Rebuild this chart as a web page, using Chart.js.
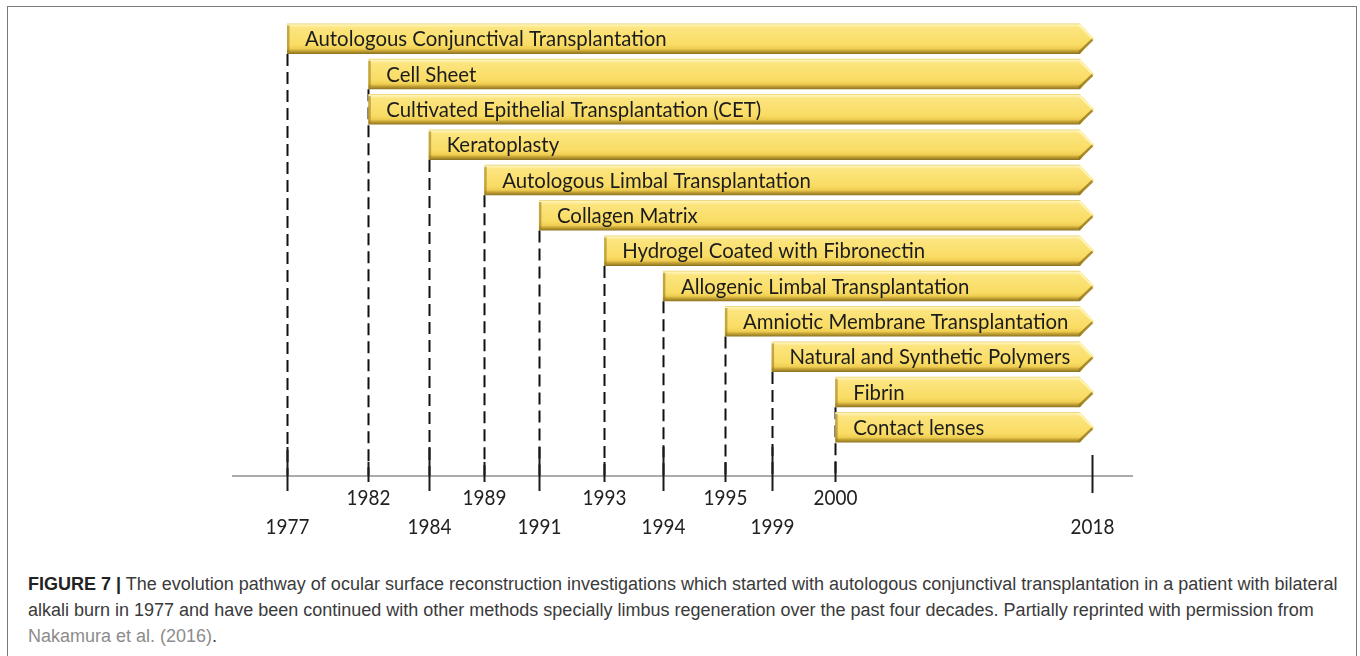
<!DOCTYPE html>
<html>
<head>
<meta charset="utf-8">
<script src="https://cdn.jsdelivr.net/npm/chart.js@4.4.1/dist/chart.umd.min.js"></script>
<style>
  html, body { margin: 0; padding: 0; background: #fff; }
  body { width: 1360px; height: 656px; position: relative; overflow: hidden; }
  #frame { position: absolute; left: 7px; top: 6px; width: 1350px; height: 720px; border: 1.5px solid #7a7a7a; box-sizing: border-box; }
  #wrap { position: absolute; left: 0; top: 0; width: 1360px; height: 560px; }
  #caption { position: absolute; left: 28px; top: 571px; width: 1325px; font-family: "Liberation Sans", Arial, sans-serif; font-size: 18px; line-height: 26px; color: #3a3a3a; white-space: nowrap; }
  #caption b { color: #222; }
  #caption .ref { color: #8c8c8c; }
</style>
</head>
<body>
<div id="frame"></div>
<div id="wrap"><canvas id="timeline" width="1360" height="560"></canvas></div>
<div id="caption">
  <b>FIGURE 7 |</b> The evolution pathway of ocular surface reconstruction investigations which started with autologous conjunctival transplantation in a patient with bilateral<br>
  alkali burn in 1977 and have been continued with other methods specially limbus regeneration over the past four decades. Partially reprinted with permission from<br>
  <span class="ref">Nakamura et al. (2016)</span>.
</div>
<script>
const rowLabels = [
  "Autologous Conjunctival Transplantation",
  "Cell Sheet",
  "Cultivated Epithelial Transplantation (CET)",
  "Keratoplasty",
  "Autologous Limbal Transplantation",
  "Collagen Matrix",
  "Hydrogel Coated with Fibronectin",
  "Allogenic Limbal Transplantation",
  "Amniotic Membrane Transplantation",
  "Natural and Synthetic Polymers",
  "Fibrin",
  "Contact lenses"
];
const startYears = [1977, 1982, 1982, 1984, 1989, 1991, 1993, 1994, 1995, 1999, 2000, 2000];
const endYear = 2018;

const tickYears = [1977, 1982, 1984, 1989, 1991, 1993, 1994, 1995, 1999, 2000, 2018];
// where each year sits on the drawn timeline (1977 = 0, 2018 = 100), the figure is not to scale
const tickPos = [0, 10.1, 17.6, 24.5, 31.3, 39.4, 46.7, 54.4, 60.2, 68.1, 100];
// 0 = label right under the line, 1 = label on the lower row
const tickLevel = [1, 0, 1, 0, 1, 0, 1, 0, 1, 0, 1];

function posOf(year) {
  return tickPos[tickYears.indexOf(year)];
}

const spans = startYears.map(y => [posOf(y), posOf(endYear)]);

const labelFont = "21px Lato";

function squeezedText(ctx, text, x, y, align, sx) {
  ctx.save();
  ctx.translate(x, y);
  ctx.scale(sx, 1);
  ctx.textAlign = align;
  ctx.fillText(text, 0, 0);
  ctx.restore();
}

const timelinePlugin = {
  id: "timeline",
  beforeDatasetsDraw(chart) {
    const ctx = chart.ctx;
    const xs = chart.scales.x;
    const area = chart.chartArea;
    const bars = chart.getDatasetMeta(0).data;
    const axisY = area.bottom + 31;

    ctx.save();
    // dashed drop lines from the first bar of each year
    ctx.strokeStyle = "#111";
    ctx.lineWidth = 2;
    ctx.setLineDash([12, 6]);
    tickYears.forEach((yr, i) => {
      const r = startYears.indexOf(yr);
      if (r < 0) return;
      const b = bars[r];
      const x = Math.round(xs.getPixelForValue(tickPos[i])) + 0.5;
      ctx.beginPath();
      ctx.moveTo(x, b.y + b.height / 2);
      ctx.lineTo(x, axisY);
      ctx.stroke();
    });
    ctx.setLineDash([]);

    // the timeline
    ctx.strokeStyle = "#8f8f8f";
    ctx.lineWidth = 1.5;
    ctx.beginPath();
    ctx.moveTo(area.left, axisY);
    ctx.lineTo(area.right, axisY);
    ctx.stroke();

    ctx.strokeStyle = "#1a1a1a";
    ctx.lineWidth = 2;
    ctx.fillStyle = "#222";
    ctx.font = labelFont;
    ctx.textBaseline = "middle";
    tickYears.forEach((yr, i) => {
      const x = Math.round(xs.getPixelForValue(tickPos[i])) + 0.5;
      let top, bottom;
      if (startYears.indexOf(yr) < 0) {
        top = axisY - 21; bottom = axisY + 17;
      } else if (tickLevel[i] === 1) {
        top = axisY - 29; bottom = axisY + 15;
      } else {
        top = axisY - 14; bottom = axisY + 6;
      }
      ctx.beginPath();
      ctx.moveTo(x, top);
      ctx.lineTo(x, bottom);
      ctx.stroke();
      const ly = tickLevel[i] === 1 ? axisY + 51 : axisY + 22;
      squeezedText(ctx, String(yr), x, ly, "center", 0.9);
    });
    ctx.restore();
  },
  afterDatasetsDraw(chart) {
    const ctx = chart.ctx;
    const bars = chart.getDatasetMeta(0).data;
    ctx.save();
    bars.forEach((b, i) => {
      const x0 = b.base;
      const tip = b.x + 2;
      const shaftEnd = b.x - 12;
      const top = b.y - b.height / 2;
      const bottom = b.y + b.height / 2;
      const mid = b.y;

      const g = ctx.createLinearGradient(0, top, 0, bottom);
      g.addColorStop(0, "#e9cf6a");
      g.addColorStop(0.05, "#fff4b8");
      g.addColorStop(0.14, "#fce57f");
      g.addColorStop(0.7, "#f9dc64");
      g.addColorStop(0.83, "#efcd52");
      g.addColorStop(0.9, "#c4a335");
      g.addColorStop(1, "#8a7120");

      ctx.beginPath();
      ctx.moveTo(x0, top);
      ctx.lineTo(shaftEnd, top);
      ctx.lineTo(tip, mid);
      ctx.lineTo(shaftEnd, bottom);
      ctx.lineTo(x0, bottom);
      ctx.closePath();
      ctx.fillStyle = g;
      ctx.fill();

      // bevel on the left edge and the point
      ctx.fillStyle = "rgba(150, 118, 25, 0.55)";
      ctx.fillRect(x0, top + 2, 2.5, b.height - 4);
      ctx.lineWidth = 2.5;
      ctx.strokeStyle = "rgba(150, 120, 30, 0.8)";
      ctx.beginPath();
      ctx.moveTo(tip - 1.5, mid + 1);
      ctx.lineTo(shaftEnd - 1, bottom - 1.5);
      ctx.stroke();
      ctx.strokeStyle = "rgba(255, 248, 200, 0.9)";
      ctx.lineWidth = 1.5;
      ctx.beginPath();
      ctx.moveTo(shaftEnd - 1, top + 1.5);
      ctx.lineTo(tip - 2, mid - 0.5);
      ctx.stroke();

      ctx.fillStyle = "#1c1c1c";
      ctx.font = labelFont;
      ctx.textBaseline = "middle";
      squeezedText(ctx, rowLabels[i], x0 + 18, mid + 1, "left", 0.97);
    });
    ctx.restore();
  }
};

const ctx = document.getElementById("timeline").getContext("2d");
const myChart = new Chart(ctx, {
  type: "bar",
  data: {
    labels: rowLabels,
    datasets: [{
      data: spans,
      backgroundColor: "rgba(0,0,0,0)",
      borderWidth: 0,
      barPercentage: 0.865,
      categoryPercentage: 1
    }]
  },
  options: {
    indexAxis: "y",
    responsive: false,
    animation: false,
    devicePixelRatio: 1,
    layout: {
      padding: { left: 232, right: 227, top: 21, bottom: 115 }
    },
    scales: {
      x: { type: "linear", min: -6.83, max: 105.1, display: false },
      y: { display: false }
    },
    plugins: {
      legend: { display: false },
      tooltip: { enabled: false }
    }
  },
  plugins: [timelinePlugin]
});
</script>
</body>
</html>
